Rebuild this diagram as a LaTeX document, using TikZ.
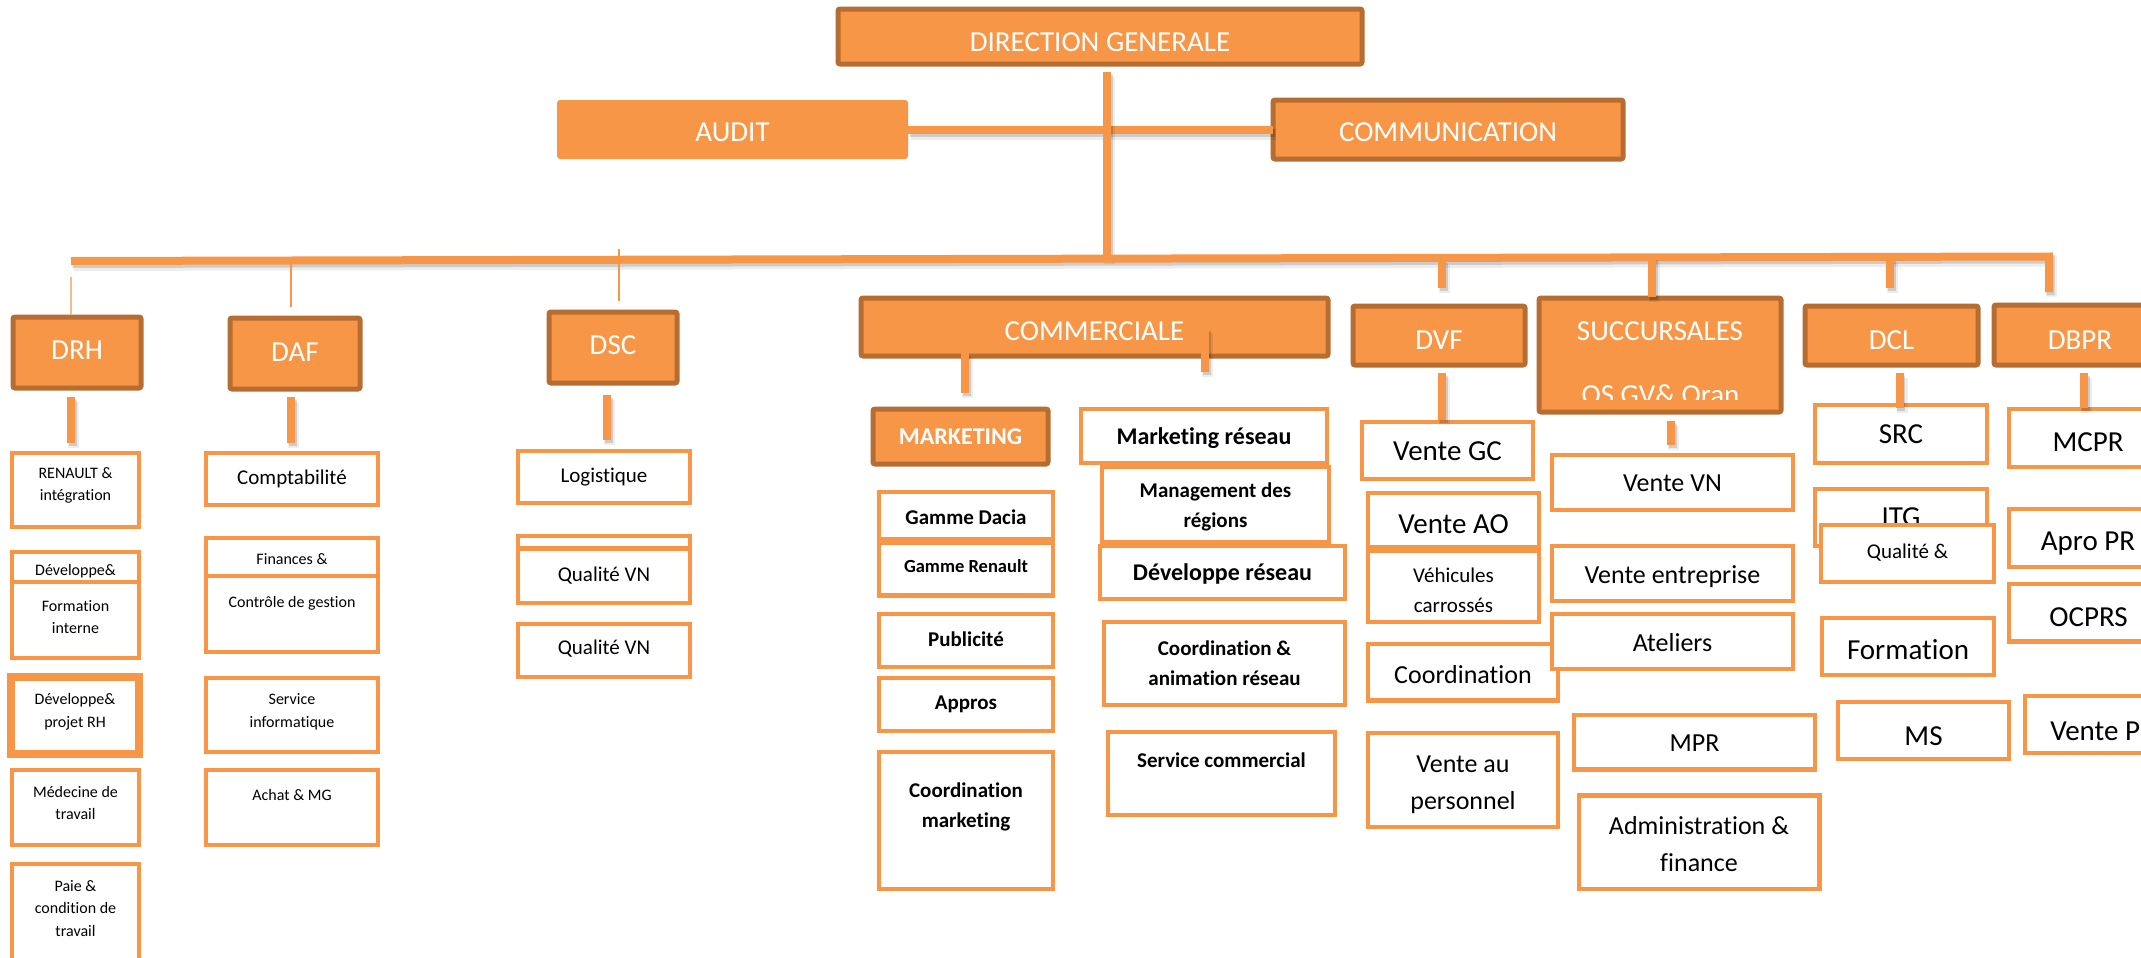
\documentclass[tikz,border=0pt]{standalone}
\usepackage{fontspec}
\setmainfont{Carlito}[Ligatures=NoCommon]
\definecolor{orgfill}{HTML}{F79646}
\definecolor{orgdark}{HTML}{B66D31}
\definecolor{orglight}{HTML}{F9B889}

% box from its outer corners (x1,y1)-(x2,y2), in pixel units
\newcommand\obox[6]{%
  \pgfmathsetlengthmacro\obw{(#5-#3-4)*0.5pt}%
  \pgfmathsetlengthmacro\obh{(#6-#4-4)*0.5pt}%
  \node[#1,anchor=north west,minimum width=\obw,minimum height=\obh] (#2) at ({#3+2},{#4+2}) {};}

% thick connector with a soft drop shadow
\newcommand\wire[2]{%
  \draw[shadowA] ([shift={(2.5,4.5)}]#1) -- ([shift={(2.5,4.5)}]#2);
  \draw[shadowB] ([shift={(1.5,3)}]#1) -- ([shift={(1.5,3)}]#2);
  \draw[wire] (#1) -- (#2);}

\begin{document}
\begin{tikzpicture}[x=0.5pt,y=-0.5pt,
  every node/.style={inner sep=0pt,outer sep=0pt},
  headbox/.style={draw=orgdark,fill=orgfill,line width=2.5pt,rounded corners=1pt},
  flatbox/.style={fill=orgfill,rounded corners=1.5pt},
  subbox/.style={draw=orgfill,fill=white,line width=2.3pt},
  heavybox/.style={subbox,line width=3.6pt},
  one/.style={text height=0.6em,text depth=0pt},
  ml/.style={align=center},
  headtxt/.style={one,text=white,font=\fontsize{14.5pt}{17pt}\selectfont},
  mkttxt/.style={one,text=white,font=\bfseries\fontsize{12pt}{14pt}\selectfont},
  sm/.style={font=\fontsize{8pt}{11.4pt}\selectfont},
  md/.style={font=\fontsize{10.5pt}{15pt}\selectfont},
  lg/.style={font=\fontsize{13pt}{18.6pt}\selectfont},
  xl/.style={font=\fontsize{14.5pt}{20.7pt}\selectfont},
  bsm/.style={font=\bfseries\fontsize{9.25pt}{13pt}\selectfont},
  bmd/.style={font=\bfseries\fontsize{10.5pt}{15pt}\selectfont},
  blg/.style={font=\bfseries\fontsize{12pt}{17pt}\selectfont},
  wire/.style={draw=orgfill,line width=4pt},
  thinwire/.style={draw=orgfill,line width=0.8pt},
  shadowA/.style={draw=black,opacity=0.07,line width=5.5pt},
  shadowB/.style={draw=black,opacity=0.14,line width=4pt},
]
\useasboundingbox (0,0) rectangle (2141,958);
\clip (0,0) rectangle (2141,958);

% ---------- top level ----------
\obox{headbox}{dg}{836}{7}{1364}{66}
\node[headtxt] (dg-t) at (1100,45.5) {DIRECTION GENERALE};
\obox{flatbox}{audit}{555}{98}{910}{161}
\node[headtxt] (audit-t) at (732.5,135.5) {AUDIT};
\obox{headbox}{comm}{1271}{98}{1625}{161}
\node[headtxt] (comm-t) at (1448,135.5) {COMMUNICATION};

% ---------- directions ----------
\obox{headbox}{drh}{11}{315}{143}{390}
\node[headtxt] (drh-t) at (77,353.5) {DRH};
\obox{headbox}{daf}{228}{316}{362}{391}
\node[headtxt] (daf-t) at (295,355) {DAF};
\obox{headbox}{dsc}{547}{310}{679}{385}
\node[headtxt] (dsc-t) at (613,348.5) {DSC};
\obox{headbox}{com}{859}{296}{1330}{358}
\node[headtxt] (com-t) at (1094.5,334) {COMMERCIALE};
\obox{headbox}{dvf}{1351}{304}{1527}{367}
\node[headtxt] (dvf-t) at (1439,343) {DVF};
\obox{headbox}{succ}{1537}{296}{1783}{414}
\node[headtxt] (succ-t) at (1660,334) {SUCCURSALES};
\begin{scope}
  \clip (1540,300) rectangle (1780,399.5);
  \node[headtxt] (succ-t2) at (1660.5,398.5) {OS GV\& Oran};
\end{scope}
\obox{headbox}{dcl}{1803}{304}{1980}{367}
\node[headtxt] (dcl-t) at (1891.5,343) {DCL};
\obox{headbox}{dbpr}{1992}{303}{2168}{367}
\node[headtxt] (dbpr-t) at (2080,343) {DBPR};
\obox{headbox}{mkt}{871}{407}{1050}{466}
\node[mkttxt] (mkt-t) at (960.5,438) {MARKETING};

% ---------- DRH services ----------
\obox{subbox}{renault}{10}{451}{141}{529}
\node[sm,ml] (renault-t) at (75.5,485.5) {RENAULT \&\\intégration};
\obox{subbox}{devA}{10}{550}{141}{610}
\node[sm,one] (devA-t) at (75.5,569.5) {Développe\&};
\obox{subbox}{forma}{10}{580}{141}{660}
\node[sm,ml] (forma-t) at (75.5,617) {Formation\\interne};
\obox{heavybox}{devrh}{9}{675}{141}{756}
\node[sm,ml] (devrh-t) at (75,712) {Développe\&\\projet RH};
\obox{subbox}{medec}{10}{768}{141}{847}
\node[sm,ml] (medec-t) at (75.5,803) {Médecine de\\travail};
\obox{subbox}{paie}{10}{862}{141}{990}
\node[sm,ml] (paie-t) at (75.5,908.5) {Paie \&\\condition de\\travail};

% ---------- DAF services ----------
\obox{subbox}{compta}{204}{451}{380}{507}
\node[md,one] (compta-t) at (292,478) {Comptabilité};
\obox{subbox}{finA}{204}{536}{380}{600}
\node[sm,one] (finA-t) at (292,558) {Finances \&};
\obox{subbox}{ctrl}{204}{574}{380}{654}
\node[sm,one] (ctrl-t) at (292,601) {Contrôle de gestion};
\obox{subbox}{servinfo}{204}{676}{380}{754}
\node[sm,ml] (servinfo-t) at (292,712) {Service\\informatique};
\obox{subbox}{achat}{204}{768}{380}{847}
\node[sm,one] (achat-t) at (292,794) {Achat \& MG};

% ---------- DSC services ----------
\obox{subbox}{logis}{516}{449}{692}{505}
\node[md,one] (logis-t) at (604,476) {Logistique};
\obox{subbox}{qvnA}{516}{534}{692}{580}
\obox{subbox}{qvn1}{516}{546.5}{692}{605}
\node[md,one] (qvn1-t) at (604,575) {Qualité VN};
\obox{subbox}{qvn2}{516}{622}{692}{679}
\node[md,one] (qvn2-t) at (604,648) {Qualité VN};

% ---------- marketing ----------
\obox{subbox}{dacia}{877}{490}{1055}{541}
\node[bmd,one] (dacia-t) at (966,518.5) {Gamme Dacia};
\obox{subbox}{renaultg}{877}{541}{1055}{597.5}
\node[bsm,one] (renaultg-t) at (966,566) {Gamme Renault};
\obox{subbox}{pub}{877}{612}{1055}{669}
\node[bmd,one] (pub-t) at (966,640) {Publicité};
\obox{subbox}{appros}{877}{676}{1055}{733}
\node[bmd,one] (appros-t) at (966,703.5) {Appros};
\obox{subbox}{coordmk}{877}{750}{1055}{891}
\node[bmd,ml] (coordmk-t) at (966,807) {Coordination\\marketing};

% ---------- network ----------
\obox{subbox}{mktres}{1079}{407}{1329}{465}
\node[blg,one] (mktres-t) at (1204,438) {Marketing réseau};
\obox{subbox}{mgmt}{1100}{465}{1331}{544}
\node[bmd,ml] (mgmt-t) at (1215.5,507) {Management des\\régions};
\obox{subbox}{devres}{1098}{544}{1347}{601}
\node[blg,one] (devres-t) at (1222.5,574.5) {Développe réseau};
\obox{subbox}{coordan}{1102}{620}{1347}{707}
\node[bmd,ml] (coordan-t) at (1224.5,663.5) {Coordination \&\\animation réseau};
\obox{subbox}{servcom}{1106}{730}{1337}{817}
\node[bmd,one] (servcom-t) at (1221.5,761) {Service commercial};

% ---------- DVF ----------
\obox{subbox}{vgc}{1360}{420}{1535}{481}
\node[xl,one] (vgc-t) at (1447.5,454) {Vente GC};
\obox{subbox}{vao}{1366}{491}{1541}{549}
\node[xl,one] (vao-t) at (1453.5,527) {Vente AO};
\obox{subbox}{vehic}{1366}{549}{1541}{624}
\node[md,ml] (vehic-t) at (1453.5,590.5) {Véhicules\\carrossés};
\obox{subbox}{coorddvf}{1366}{642}{1560}{702.5}
\node[lg,one] (coorddvf-t) at (1463,677) {Coordination};
\obox{subbox}{vperso}{1366}{731}{1560}{829}
\node[lg,ml] (vperso-t) at (1463,784.5) {Vente au\\personnel};

% ---------- branches ----------
\obox{subbox}{vvn}{1550}{453}{1795}{512}
\node[lg,one] (vvn-t) at (1672.5,485) {Vente VN};
\obox{subbox}{vent}{1550}{544}{1795}{603}
\node[lg,one] (vent-t) at (1672.5,577.5) {Vente entreprise};
\obox{subbox}{atel}{1550}{612}{1795}{671}
\node[lg,one] (atel-t) at (1672.5,645) {Ateliers};
\obox{subbox}{mpr}{1572}{713}{1817}{771.5}
\node[lg,one] (mpr-t) at (1694.5,745) {MPR};
\obox{subbox}{adminf}{1577}{793.5}{1821.5}{891}
\node[lg,ml] (adminf-t) at (1699,844) {Administration \&\\finance};

% ---------- DCL ----------
\obox{subbox}{src}{1813}{403}{1989}{465}
\node[xl,one] (src-t) at (1901,437.5) {SRC};
\obox{subbox}{itg}{1813}{487}{1989}{548}
\node[xl,one] (itg-t) at (1901,520) {ITG};
\obox{subbox}{qual}{1819}{523}{1996}{584}
\node[md,one] (qual-t) at (1907.5,552) {Qualité \&};
\obox{subbox}{forma2}{1820}{616}{1996}{677}
\node[xl,one] (forma2-t) at (1908,653) {Formation};
\obox{subbox}{ms}{1836}{700}{2011}{761}
\node[xl,one] (ms-t) at (1923.5,739) {MS};

% ---------- DBPR ----------
\obox{subbox}{mcpr}{2007}{407}{2169}{469}
\node[xl,one] (mcpr-t) at (2088,445.5) {MCPR};
\obox{subbox}{apro}{2007}{507}{2169}{569}
\node[xl,one] (apro-t) at (2088,544.5) {Apro PR};
\obox{subbox}{ocprs}{2007}{582}{2169}{643.5}
\node[xl,one] (ocprs-t) at (2088.5,620.5) {OCPRS};
\obox{subbox}{vpr}{2023}{694}{2183}{755}
\node[xl,one] (vpr-t) at (2103,734) {Vente PR};

% ---------- connector end points ----------
\coordinate (dgA) at (1107,72);    \coordinate (dgB) at (1107,259);
\coordinate (barL) at (71,261);    \coordinate (barR) at (2049,256.5);
\coordinate (barEnd) at (2049,292);
\coordinate (drhA) at (71,277);    \coordinate (drhB) at (71,315);
\coordinate (dafA) at (291,257);   \coordinate (dafB) at (291,307);
\coordinate (dscA) at (619,249);   \coordinate (dscB) at (619,301);
\coordinate (dvfA) at (1442,260);  \coordinate (dvfB) at (1442,288);
\coordinate (succA) at (1652,257); \coordinate (succB) at (1652,297);
\coordinate (dclA) at (1890,258);  \coordinate (dclB) at (1890,288);
\coordinate (drhC) at (71,397);    \coordinate (drhD) at (71,443);
\coordinate (dafC) at (291,397);   \coordinate (dafD) at (291,443);
\coordinate (dscC) at (607,395);   \coordinate (dscD) at (607,440);
\coordinate (dvfC) at (1442,373);  \coordinate (dvfD) at (1442,420);
\coordinate (succC) at (1671,421); \coordinate (succD) at (1671,445);
\coordinate (dclC) at (1899.5,373);\coordinate (dclD) at (1899.5,408);
\coordinate (dbprC) at (2084,373); \coordinate (dbprD) at (2084,408);
\coordinate (comL1) at (965,353);  \coordinate (comL2) at (965,393);
\coordinate (comR1) at (1205,328); \coordinate (comR2) at (1205,372);

% ---------- connectors ----------
\wire{audit.east}{comm.west}
\wire{dgA}{dgB}
\draw[shadowA] ([shift={(2.5,4.5)}]barL) -- ([shift={(2.5,4.5)}]barR) -- ([shift={(2.5,4.5)}]barEnd);
\draw[shadowB] ([shift={(1.5,3)}]barL) -- ([shift={(1.5,3)}]barR) -- ([shift={(1.5,3)}]barEnd);
\draw[wire] (barL) -- (barR) -- (barEnd);
\draw[thinwire,draw=orglight] (drhA) -- (drhB);
\draw[thinwire] (dafA) -- (dafB);
\draw[thinwire] (dscA) -- (dscB);
\wire{dvfA}{dvfB}
\wire{succA}{succB}
\wire{dclA}{dclB}
\wire{drhC}{drhD}
\wire{dafC}{dafD}
\wire{dscC}{dscD}
\wire{dvfC}{dvfD}
\wire{succC}{succD}
\wire{dclC}{dclD}
\wire{dbprC}{dbprD}
\wire{comL1}{comL2}
\wire{comR1}{comR2}
\end{tikzpicture}
\end{document}
